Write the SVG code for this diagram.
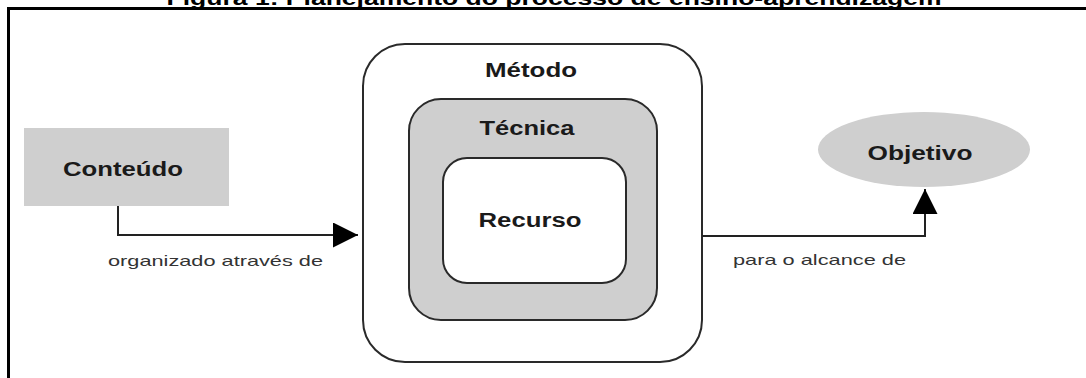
<svg xmlns="http://www.w3.org/2000/svg" width="1086" height="378" viewBox="0 0 1086 378">
<defs>
<style>
.lbl{font-family:"Liberation Sans",Arial,sans-serif;font-weight:bold;font-size:20px;fill:#1a1a1a;text-anchor:middle}
.edge{font-family:"Liberation Sans",Arial,sans-serif;font-size:15px;fill:#333}
.box{stroke:#2a2a2a;stroke-width:2}
.con{fill:none;stroke:#222;stroke-width:2}
</style>
<marker id="arr" viewBox="0 0 10 10" refX="10" refY="5" markerWidth="25" markerHeight="25" markerUnits="userSpaceOnUse" orient="auto">
<path d="M0,0 L10,5 L0,10 Z" fill="#000"/>
</marker>
</defs>
<rect width="1086" height="378" fill="#fff"/>
<text x="554" y="5" font-family="Liberation Sans,Arial,sans-serif" font-weight="bold" font-size="21" text-anchor="middle" fill="#000" textLength="775" lengthAdjust="spacingAndGlyphs">Figura 1: Planejamento do processo de ensino-aprendizagem</text>
<path d="M8.5,378 V8.5 H1086" fill="none" stroke="#000" stroke-width="3"/>
<g id="conteudo">
<rect x="24" y="128" width="205" height="78" fill="#cfcfcf"/>
<text class="lbl" x="123" y="176" textLength="120" lengthAdjust="spacingAndGlyphs">Conteúdo</text>
</g>
<g id="metodo">
<rect class="box" x="363" y="44" width="339" height="318" rx="42" fill="#fff"/>
<text class="lbl" x="531" y="77" textLength="92" lengthAdjust="spacingAndGlyphs">Método</text>
</g>
<g id="tecnica">
<rect class="box" x="409" y="99" width="248" height="221" rx="32" fill="#cfcfcf"/>
<text class="lbl" x="527" y="135" textLength="95" lengthAdjust="spacingAndGlyphs">Técnica</text>
</g>
<g id="recurso">
<rect class="box" x="443" y="158" width="183" height="125" rx="24" fill="#fff"/>
<text class="lbl" x="530" y="227" textLength="103" lengthAdjust="spacingAndGlyphs">Recurso</text>
</g>
<g id="objetivo">
<ellipse cx="924" cy="149.5" rx="106" ry="37.5" fill="#cfcfcf"/>
<text class="lbl" x="920" y="160" textLength="105" lengthAdjust="spacingAndGlyphs">Objetivo</text>
</g>
<g id="connectors">
<path class="con" d="M118,206 V235 H358" marker-end="url(#arr)"/>
<text class="edge" x="108" y="266" textLength="215" lengthAdjust="spacingAndGlyphs">organizado através de</text>
<path class="con" d="M702,236 H925 V189" marker-end="url(#arr)"/>
<text class="edge" x="733" y="265" textLength="173" lengthAdjust="spacingAndGlyphs">para o alcance de</text>
</g>
</svg>
